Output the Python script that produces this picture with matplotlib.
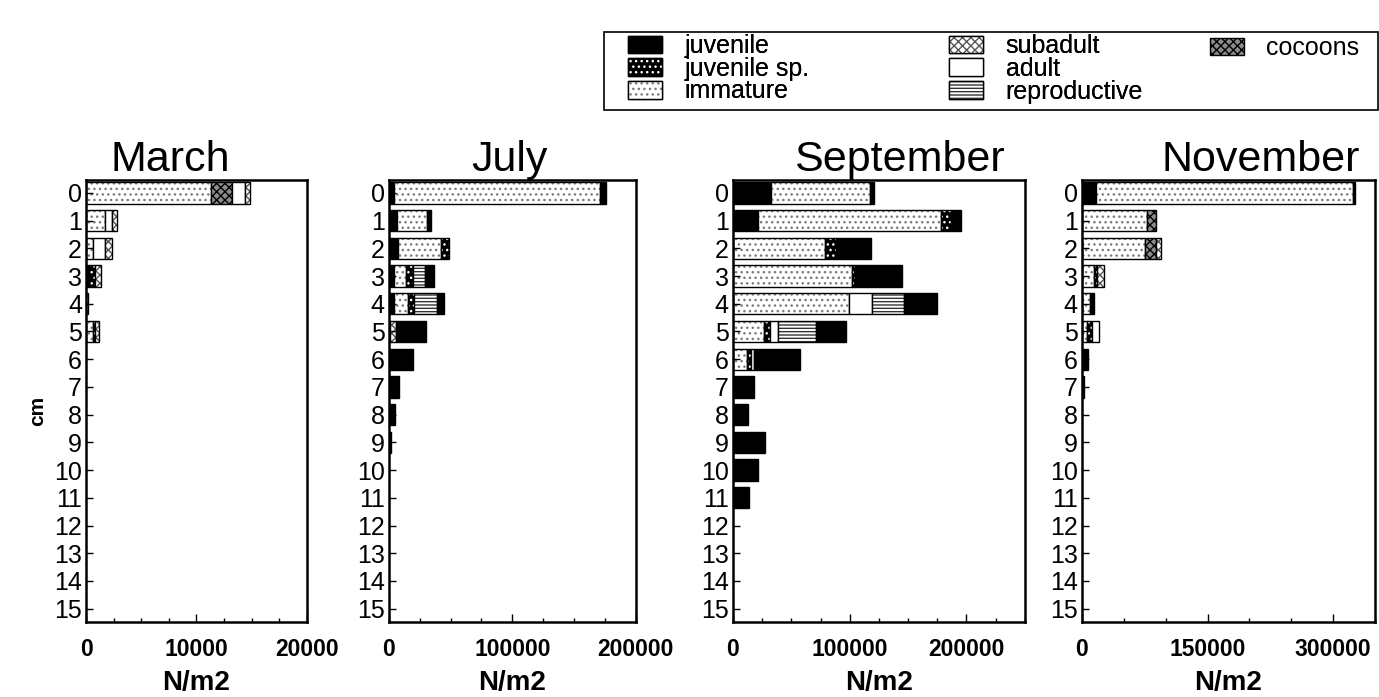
import numpy as np
import matplotlib
matplotlib.use("Agg")
import matplotlib.pyplot as plt
import matplotlib.patches as mpatches
from matplotlib.ticker import MultipleLocator

plt.rcParams["font.family"] = ["Liberation Sans", "DejaVu Sans"]
plt.rcParams["hatch.linewidth"] = 1.0

DEPTHS = np.arange(16)
DEPTH_LABELS = [str(d) for d in DEPTHS]
MONTH_NAMES = ["March", "July", "September", "November"]

# --- values (N/m2) per depth ---
mar_juvenile = [0, 0, 0, 300, 0, 0, 0, 0, 0, 0, 0, 0, 0, 0, 0, 0]
mar_immature = [11300, 1700, 600, 0, 0, 600, 0, 0, 0, 0, 0, 0, 0, 0, 0, 0]
mar_juvenile_sp = [0, 0, 0, 500, 0, 200, 0, 0, 0, 0, 0, 0, 0, 0, 0, 0]
mar_cocoons = [1900, 0, 0, 0, 0, 0, 0, 0, 0, 0, 0, 0, 0, 0, 0, 0]
mar_adult = [1200, 650, 1100, 0, 0, 0, 0, 0, 0, 0, 0, 0, 0, 0, 0, 0]
mar_subadult = [500, 450, 650, 600, 200, 400, 0, 0, 0, 0, 0, 0, 0, 0, 0, 0]

jul_juvenile = [4300, 6800, 7600, 4100, 4100, 0, 0, 0, 0, 0, 0, 0, 0, 0, 0, 0]
jul_immature = [167000, 24300, 34900, 10000, 11400, 0, 0, 0, 0, 0, 0, 0, 0, 0, 0, 0]
jul_juvenile_sp = [0, 0, 5900, 5400, 4600, 0, 0, 0, 0, 0, 0, 0, 0, 0, 0, 0]
jul_adult = [0, 0, 0, 0, 0, 1300, 1000, 0, 0, 0, 0, 0, 0, 0, 0, 0]
jul_subadult = [0, 0, 0, 0, 0, 4600, 800, 0, 0, 0, 0, 0, 0, 0, 0, 0]
jul_reproductive = [0, 0, 0, 9500, 18900, 0, 0, 0, 0, 0, 0, 0, 0, 0, 0, 0]
jul_juvenile_late = [4300, 3000, 0, 7300, 5400, 24300, 18100, 8600, 4900, 1900, 0, 0, 0, 0, 0, 0]

sep_juvenile = [32900, 21400, 0, 0, 0, 0, 0, 0, 0, 0, 0, 0, 0, 0, 0, 0]
sep_immature = [84300, 157100, 78600, 102000, 99100, 26300, 12000, 0, 0, 0, 0, 0, 0, 0, 0, 0]
sep_juvenile_sp = [0, 8600, 9400, 2900, 0, 5100, 3700, 0, 0, 0, 0, 0, 0, 0, 0, 0]
sep_adult = [0, 0, 0, 0, 20000, 7400, 2600, 0, 0, 0, 0, 0, 0, 0, 0, 0]
sep_reproductive = [0, 0, 0, 0, 27100, 32000, 0, 0, 0, 0, 0, 0, 0, 0, 0, 0]
sep_juvenile_late = [3400, 8600, 30000, 40300, 28600, 26300, 38800, 17700, 12900, 27400, 21700, 13400, 0, 0, 0, 0]

nov_juvenile = [16800, 0, 0, 0, 0, 0, 0, 0, 0, 0, 0, 0, 0, 0, 0, 0]
nov_immature = [307200, 78000, 75200, 14000, 10000, 6000, 0, 0, 0, 0, 0, 0, 0, 0, 0, 0]
nov_juvenile_sp = [0, 0, 0, 4000, 0, 6000, 0, 0, 0, 0, 0, 0, 0, 0, 0, 0]
nov_cocoons = [0, 10000, 13600, 0, 0, 0, 0, 0, 0, 0, 0, 0, 0, 0, 0, 0]
nov_adult = [0, 0, 0, 0, 0, 8000, 0, 0, 0, 0, 0, 0, 0, 0, 0, 0]
nov_subadult = [0, 0, 5200, 8000, 0, 0, 0, 0, 0, 0, 0, 0, 0, 0, 0, 0]
nov_juvenile_late = [2000, 0, 0, 0, 4000, 0, 7200, 2000, 0, 0, 0, 0, 0, 0, 0, 0]

# stack order per month (left to right)
MONTHS = {
    "March": [
        ("juvenile", mar_juvenile),
        ("immature", mar_immature),
        ("juvenile sp.", mar_juvenile_sp),
        ("cocoons", mar_cocoons),
        ("adult", mar_adult),
        ("subadult", mar_subadult),
    ],
    "July": [
        ("juvenile", jul_juvenile),
        ("immature", jul_immature),
        ("juvenile sp.", jul_juvenile_sp),
        ("adult", jul_adult),
        ("subadult", jul_subadult),
        ("reproductive", jul_reproductive),
        ("juvenile", jul_juvenile_late),
    ],
    "September": [
        ("juvenile", sep_juvenile),
        ("immature", sep_immature),
        ("juvenile sp.", sep_juvenile_sp),
        ("adult", sep_adult),
        ("reproductive", sep_reproductive),
        ("juvenile", sep_juvenile_late),
    ],
    "November": [
        ("juvenile", nov_juvenile),
        ("immature", nov_immature),
        ("juvenile sp.", nov_juvenile_sp),
        ("cocoons", nov_cocoons),
        ("adult", nov_adult),
        ("subadult", nov_subadult),
        ("juvenile", nov_juvenile_late),
    ],
}

# fill colour, hatch, hatch colour
STYLES = {
    "juvenile": ("black", None, "black"),
    "juvenile sp.": ("black", "...", "white"),
    "immature": ("white", "...", "#7a7a7a"),
    "subadult": ("white", "xxxx", "#555555"),
    "adult": ("white", None, "white"),
    "reproductive": ("white", "-----", "#333333"),
    "cocoons": ("#8c8c8c", "xxxx", "black"),
}
LEGEND_LEFT = ["juvenile", "juvenile sp.", "immature", "subadult", "adult",
               "reproductive"]
LEGEND_RIGHT = ["cocoons"]

X_MAX = [20000, 200000, 250000, 350000]
X_MAJOR = [[0, 10000, 20000], [0, 100000, 200000], [0, 100000, 200000],
           [0, 150000, 300000]]
X_MINOR = [2500, 25000, 25000, 50000]

# axes boxes in figure fractions
AX_POS = [
    [0.0624, 0.108, 0.160, 0.634],
    [0.282, 0.108, 0.179, 0.634],
    [0.5315, 0.108, 0.2117, 0.634],
    [0.7846, 0.108, 0.2125, 0.634],
]
TITLE_X = [0.38, 0.49, 0.57, 0.61]


def legend_handle(cat):
    face, hatch, hcol = STYLES[cat]
    fill_p = mpatches.Patch(facecolor=face, edgecolor=hcol, hatch=hatch,
                            linewidth=0)
    edge_p = mpatches.Patch(fill=False, edgecolor="black", linewidth=1)
    return (fill_p, edge_p)


fig = plt.figure(figsize=(13.79, 6.97), dpi=100)

for i, month in enumerate(MONTH_NAMES):
    ax = fig.add_axes(AX_POS[i])
    left = np.zeros(len(DEPTHS))
    for cat, vals in MONTHS[month]:
        vals = np.asarray(vals, dtype=float)
        face, hatch, hcol = STYLES[cat]
        m = vals > 0
        ax.barh(DEPTHS[m], vals[m], left=left[m], height=0.77, color=face,
                edgecolor=hcol, hatch=hatch, linewidth=0)
        ax.barh(DEPTHS[m], vals[m], left=left[m], height=0.77, fill=False,
                edgecolor="black", linewidth=1.0)
        left += vals

    ax.set_ylim(15.47, -0.47)
    ax.set_yticks(DEPTHS)
    ax.set_yticklabels(DEPTH_LABELS, fontsize=18)
    ax.set_xlim(0, X_MAX[i])
    ax.set_xticks(X_MAJOR[i])
    ax.set_xticklabels([str(v) for v in X_MAJOR[i]], fontsize=16.5,
                       fontweight="bold")
    ax.xaxis.set_minor_locator(MultipleLocator(X_MINOR[i]))
    ax.tick_params(axis="y", direction="in", length=5, width=1, pad=3)
    ax.tick_params(axis="x", which="major", direction="in", length=6,
                   width=1, pad=12)
    ax.tick_params(axis="x", which="minor", direction="in", length=3, width=1)
    for sp in ax.spines.values():
        sp.set_linewidth(1.8)
    ax.set_title(month, fontsize=31, x=TITLE_X[i], pad=5)
    ax.set_xlabel("N/m2", fontsize=20, fontweight="bold", labelpad=6)

fig.text(0.027, 0.41, "cm", rotation=90, fontsize=15, fontweight="bold",
         ha="center", va="center")

# legend: one frame, two frameless legends inside it
frame = mpatches.Rectangle((0.438, 1 - 110 / 697), 0.5615, 78 / 697,
                           transform=fig.transFigure, fill=False,
                           edgecolor="black", linewidth=1.2)
fig.patches.append(frame)

leg_kw = dict(loc="upper left", fontsize=18, frameon=False,
              handlelength=1.35, handleheight=0.7, labelspacing=-0.05,
              handletextpad=0.9, borderpad=0, borderaxespad=0)
leg_left = fig.legend([legend_handle(c) for c in LEGEND_LEFT], LEGEND_LEFT,
                      ncol=2, columnspacing=5.6,
                      bbox_to_anchor=(628 / 1379, 1 - 34 / 697), **leg_kw)
fig.legend([legend_handle(c) for c in LEGEND_RIGHT], LEGEND_RIGHT,
           bbox_to_anchor=(1210 / 1379, 1 - 36 / 697), **leg_kw)
fig.add_artist(leg_left)

plt.savefig("out.png", dpi=100)
